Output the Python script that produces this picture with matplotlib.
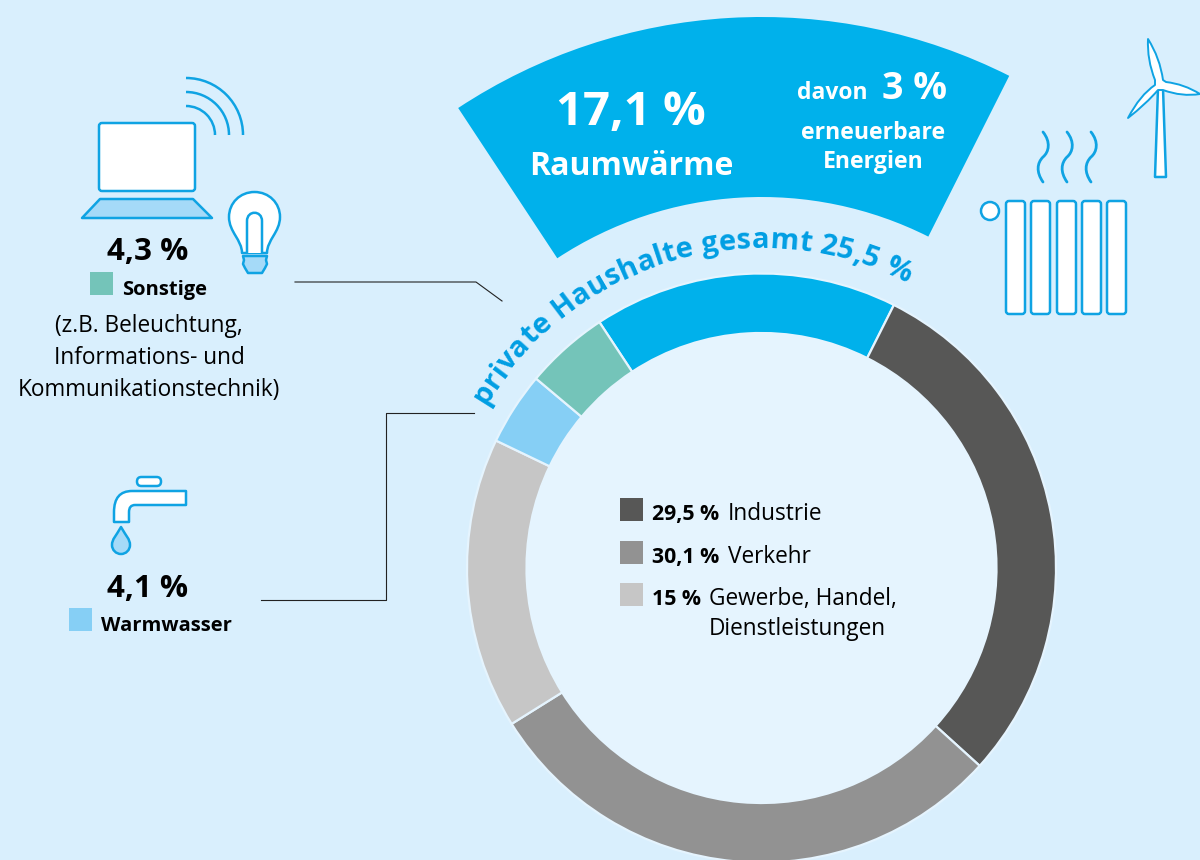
import numpy as np
import matplotlib
matplotlib.use('Agg')
import matplotlib.pyplot as plt
from matplotlib.patches import Circle, FancyBboxPatch, PathPatch, Rectangle, Arc
from matplotlib.path import Path
from matplotlib.font_manager import FontProperties
from matplotlib.textpath import TextPath

FONT = 'Open Sans'
plt.rcParams['font.family'] = [FONT, 'DejaVu Sans']

# data
segments = ['Raumwärme', 'Industrie', 'Verkehr', 'Gewerbe, Handel, Dienstleistungen', 'Warmwasser', 'Sonstige']
ring_shares = [16.7, 29.3, 29.4, 16, 4, 4.6]  # as drawn in the picture
seg_colors = ['#00B1EB', '#575756', '#929292', '#C6C6C6', '#86CFF5', '#74C4B9']
legend_vals = ['29,5 %', '30,1 %', '15 %']
legend_names = ['Industrie', 'Verkehr', 'Gewerbe, Handel,']

BG = '#D9EFFD'
INNER = '#E5F4FE'
LINE = '#0FA3E3'
FILL = '#A5DAF8'
TXT = '#009EE3'
H = 860
LW = 1.8
cx, cy = 761.5, H - 568  # ring centre


def Y(y):
    return H - y


def pts(lst):
    return [(x, Y(y)) for x, y in lst]


def txt(x, y, s, size=16.3, weight='normal', color='black', ha='left', **kw):
    ax.text(x, Y(y), s, fontsize=size, fontweight=weight, color=color, ha=ha, va='baseline', **kw)


def rounded(x0, y0, x1, y1, r, fc='white', ec=LINE, lw=LW):
    ax.add_patch(FancyBboxPatch((x0 + r, Y(y1) + r), x1 - x0 - 2 * r, y1 - y0 - 2 * r,
                                boxstyle='round,pad=%g,rounding_size=%g' % (r, r),
                                fc=fc, ec=ec, lw=lw, zorder=5))


def shape(verts, codes, fc='white', ec=LINE, lw=LW):
    ax.add_patch(PathPatch(Path(pts(verts), codes), fc=fc, ec=ec, lw=lw, zorder=5, capstyle='round', joinstyle='round'))


def swatch(x, y, color):
    ax.add_patch(Rectangle((x, Y(y + 23)), 23, 23, fc=color, ec='none', zorder=6))


fig = plt.figure(figsize=(12, 8.6), dpi=100, facecolor=BG)
ax = fig.add_axes([0, 0, 1, 1])

# big sector with Raumwärme, same angles as ring segment
ax.pie([ring_shares[0], sum(ring_shares) - ring_shares[0]], colors=[seg_colors[0], 'none'], startangle=123.4,
       counterclock=False, center=(cx, cy), radius=551, wedgeprops=dict(width=180, linewidth=0))
ax.add_patch(Circle((cx, cy), 235, fc=INNER, ec='none'))
ax.pie(ring_shares, colors=seg_colors, startangle=123.4, counterclock=False, center=(cx, cy), radius=294.5,
       wedgeprops=dict(width=59.5, edgecolor=INNER, linewidth=1.6))
ax.set_xlim(0, 1200)
ax.set_ylim(0, H)
ax.set_aspect('auto')
ax.axis('off')

# text in the big sector
txt(631, 125, '17,1 %', 34, 'bold', 'white', ha='center')
txt(631, 175, 'Raumwärme', 23, 'bold', 'white', ha='center')
txt(797, 99, 'davon', 16.5, 'bold', 'white')
txt(882, 99, '3 %', 27, 'bold', 'white')
txt(873, 139, 'erneuerbare', 16.6, 'bold', 'white', ha='center')
txt(873, 168, 'Energien', 16.6, 'bold', 'white', ha='center')

# curved label
label = 'private Haushalte gesamt 25,5 %'
fp = FontProperties(family=FONT, weight='bold', size=21)


def tw(s):
    return TextPath((0, 0), s + '.', prop=fp).get_extents().x1 * 100 / 72


base_r = 320
a0, a1 = 149.5, 63.0
widths = [tw(label[:i]) for i in range(len(label) + 1)]
stretch = np.radians(a0 - a1) * base_r / (widths[-1] - widths[0])
for i, ch in enumerate(label):
    if ch == ' ':
        continue
    mid = (widths[i] + widths[i + 1]) / 2 - widths[0]
    ang = np.radians(a0) - mid * stretch / base_r
    ax.text(cx + base_r * np.cos(ang), cy + base_r * np.sin(ang), ch, fontproperties=fp, color=TXT,
            ha='center', va='baseline', rotation=np.degrees(ang) - 90, rotation_mode='anchor')

# leader lines
ax.plot(*zip(*pts([(295, 282), (476, 282), (502, 301)])), color='#222222', lw=0.8)
ax.plot(*zip(*pts([(261, 600), (386, 600), (386, 413), (474, 413)])), color='#222222', lw=0.8)

# left labels
txt(148, 260, '4,3 %', 22.5, 'bold', ha='center')
swatch(90, 272, seg_colors[5])
txt(122, 295, 'Sonstige', 14.5, 'bold')
txt(149, 332, '(z.B. Beleuchtung,', ha='center')
txt(149, 364, 'Informations- und', ha='center')
txt(149, 396, 'Kommunikationstechnik)', ha='center')
txt(148, 597, '4,1 %', 22.5, 'bold', ha='center')
swatch(69, 608, seg_colors[4])
txt(101, 631, 'Warmwasser', 14.5, 'bold')

# legend in the ring
leg_y = [498, 541, 583]
leg_x = [728, 728, 709]
for yy, col, val, nm, lx in zip(leg_y, seg_colors[1:4], legend_vals, legend_names, leg_x):
    swatch(620, yy, col)
    txt(652, yy + 22, val, 15.3, 'bold')
    txt(lx, yy + 22, nm)
txt(709, 635, 'Dienstleistungen')

M, L, C, C4, Z = Path.MOVETO, Path.LINETO, Path.CURVE3, Path.CURVE4, Path.CLOSEPOLY

# laptop
rounded(99, 123, 195, 191, 3)
shape([(82, 218), (100, 199), (193, 199), (212, 218), (82, 218)], [M, L, L, L, Z], fc=FILL)
for r in [57, 43, 29]:
    ax.add_patch(Arc((186, Y(135)), 2 * r, 2 * r, theta1=0, theta2=90, color=LINE, lw=LW, zorder=5))

# bulb
shape([(242, 253), (242, 240), (229, 232), (229, 217), (229, 203), (240, 192), (254.5, 192),
       (269, 192), (280, 203), (280, 217), (280, 232), (267, 240), (267, 253), (242, 253)],
      [M, C4, C4, C4, C4, C4, C4, C4, C4, C4, C4, C4, C4, Z])
shape([(247, 253), (247, 221), (247, 210), (262, 210), (262, 221), (262, 253)], [M, L, C4, C4, C4, L])
shape([(243, 256), (267, 256), (266, 260), (267, 264), (265, 268), (262, 273), (248, 273), (245, 268), (243, 264), (244, 260), (243, 256)],
      [M, L, L, L, L, L, L, L, L, L, Z], fc=FILL)

# radiator
for x0 in [1006, 1031, 1057, 1082, 1107]:
    rounded(x0, 201, x0 + 19, 314, 3)
ax.add_patch(Circle((990, Y(211)), 9, fc='white', ec=LINE, lw=LW, zorder=5))
for dx in [0, 24, 48]:
    shape([(1043 + dx, 132), (1051 + dx, 142), (1049 + dx, 152), (1043 + dx, 157),
           (1037 + dx, 163), (1036 + dx, 172), (1043 + dx, 182)], [M, C4, C4, C4, C4, C4, C4], fc='none', lw=2)

# wind turbine
shape([(1155, 177), (1158, 88), (1163, 88), (1166, 177), (1155, 177)], [M, L, L, L, Z])
shape([(1148, 39), (1160, 58), (1163, 80), (1166, 82), (1184, 84), (1200, 94), (1182, 97), (1163, 90), (1158, 90),
       (1146, 104), (1128, 118), (1140, 95), (1155, 85), (1155, 80), (1147, 60), (1148, 39), (1148, 39)],
      [M, C, C, L, C, C, C, C, L, C, C, C, C, L, C, C, Z], lw=1.4)

# tap
shape([(114, 522), (114, 512), (114, 491), (132, 491), (186, 491), (186, 505), (135, 505), (129, 505), (129, 512), (129, 522), (114, 522)],
      [M, L, C, C, L, L, L, C, C, L, Z])
rounded(137, 477, 161, 486, 4.4)
shape([(121, 527), (116, 536), (112, 539), (112, 545), (112, 550), (116, 554), (121, 554),
       (126, 554), (130, 550), (130, 545), (130, 539), (126, 536), (121, 527), (121, 527)],
      [M, C4, C4, C4, C4, C4, C4, C4, C4, C4, C4, C4, C4, Z], fc=FILL)

fig.savefig('out.png', dpi=100, facecolor=BG)
